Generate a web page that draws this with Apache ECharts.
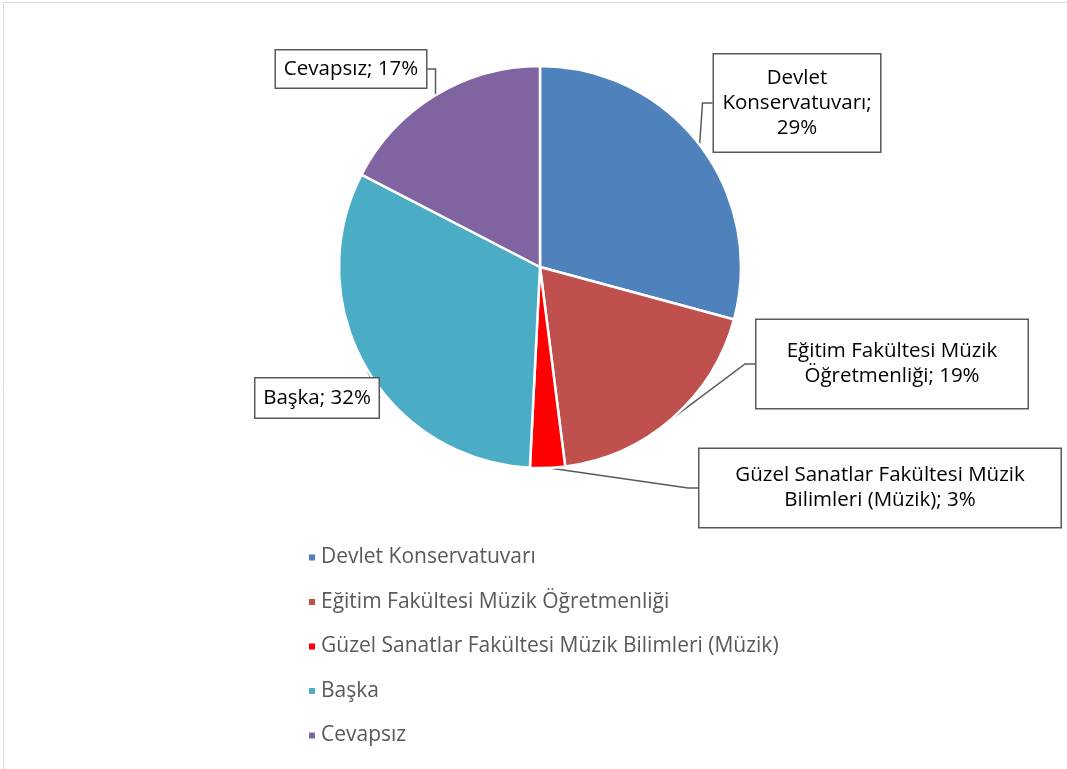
<!DOCTYPE html>
<html>
<head>
<meta charset="utf-8">
<script src="https://cdn.jsdelivr.net/npm/echarts@6/dist/echarts.min.js"></script>
<style>
  html, body { margin: 0; padding: 0; background: #fff; }
  #chart { width: 1067px; height: 769px; }
</style>
</head>
<body>
<div id="chart"></div>
<script>
// legend names
const categories = [
  "Devlet Konservatuvarı",
  "Eğitim Fakültesi Müzik Öğretmenliği",
  "Güzel Sanatlar Fakültesi Müzik Bilimleri (Müzik)",
  "Başka",
  "Cevapsız"
];
// shares (labels show them rounded)
const values = [29.2, 18.8, 2.8, 31.8, 17.4];
// label wording, with the line breaks of the callouts
const labelNames = [
  "Devlet\nKonservatuvarı",
  "Eğitim Fakültesi Müzik\nÖğretmenliği",
  "Güzel Sanatlar Fakültesi Müzik\nBilimleri (Müzik)",
  "Başka",
  "Cevapsız"
];
const colors = ["#4F81BD", "#C0504D", "#FF0000", "#4BACC6", "#8064A2"];

// callout boxes: centre x, centre y, box width, vertical padding
const callouts = [
  { cx: 797, cy: 103, w: 168, pv: 11 },
  { cx: 892, cy: 364, w: 273, pv: 19 },
  { cx: 880, cy: 488, w: 363, pv: 14 },
  { cx: 317, cy: 398, w: 125, pv: 7 },
  { cx: 351, cy: 69, w: 152, pv: 6 }
];

const FONT = "Open Sans";

const chart = echarts.init(document.getElementById("chart"));

const data = categories.map((name, i) => ({
  name: name,
  value: values[i],
  itemStyle: { color: colors[i] },
  label: {
    width: callouts[i].w - 2,
    padding: [callouts[i].pv, 0, callouts[i].pv, 0]
  }
}));

chart.setOption({
  animation: false,
  textStyle: { fontFamily: FONT },
  graphic: [{
    type: "rect",
    shape: { x: 3.5, y: 2.5, width: 1080, height: 800 },
    style: { fill: "none", stroke: "#d9d9d9", lineWidth: 1 },
    silent: true
  }],
  legend: {
    orient: "vertical",
    left: 302,
    top: 542,
    icon: "rect",
    itemWidth: 8,
    itemHeight: 8,
    itemGap: 23.5,
    textStyle: { fontFamily: FONT, fontSize: 21, color: "#595959" },
    data: categories
  },
  series: [{
    type: "pie",
    center: [540, 267],
    radius: 201,
    startAngle: 90,
    clockwise: true,
    avoidLabelOverlap: false,
    itemStyle: { borderColor: "#fff", borderWidth: 2.5 },
    label: {
      show: true,
      position: "outside",
      fontFamily: FONT,
      fontSize: 20.5,
      lineHeight: 25,
      color: "#000",
      align: "center",
      backgroundColor: "#fff",
      borderColor: "#595959",
      borderWidth: 1.5,
      formatter: function (p) {
        const i = p.dataIndex;
        return labelNames[i] + ";" + (i === 0 ? "\n" : " ") + Math.round(p.percent) + "%";
      }
    },
    labelLine: {
      show: true,
      length: 10,
      length2: 10,
      lineStyle: { color: "#595959", width: 1.5 }
    },
    labelLayout: function (params) {
      const c = callouts[params.dataIndex];
      return { x: c.cx, y: c.cy, align: "center", verticalAlign: "middle" };
    },
    data: data
  }]
});
</script>
</body>
</html>
